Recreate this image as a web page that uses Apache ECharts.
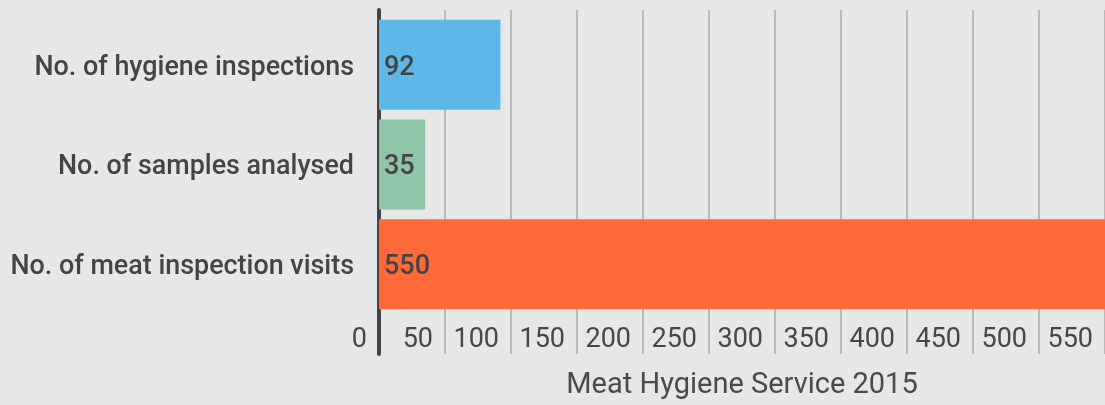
<!DOCTYPE html>
<html>
<head>
<meta charset="utf-8">
<script src="https://cdn.jsdelivr.net/npm/echarts@6/dist/echarts.min.js"></script>
<style>
html,body{margin:0;padding:0;background:#e6e7e9;}
#chart{width:1105px;height:405px;}
</style>
</head>
<body>
<div id="chart"></div>
<script>
var categories = ['No. of hygiene inspections', 'No. of samples analysed', 'No. of meat inspection visits'];
var values = [92, 35, 550];
var barColors = ['#5db7e7', '#8fc4a7', '#ff6a3b'];
var axisTitle = 'Meat Hygiene Service 2015';
var axisMin = 0, axisMax = 550, axisStep = 50;

var chart = echarts.init(document.getElementById('chart'));
var font = 'Roboto, "Noto Sans", sans-serif';
chart.setOption({
  backgroundColor: '#e6e7e9',
  animation: false,
  grid: [
    {left: 379, right: -2, top: 15, height: 299},
    {left: 379, right: -2, top: 10, bottom: 47}
  ],
  xAxis: [
    {gridIndex: 0, type: 'value', min: axisMin, max: axisMax, interval: axisStep, show: false},
    {gridIndex: 1, type: 'value', min: axisMin, max: axisMax, interval: axisStep, position: 'bottom',
     axisLine: {show: false}, axisTick: {show: false},
     splitLine: {show: true, lineStyle: {color: '#b9b9bb', width: 2}},
     axisLabel: {inside: true, margin: 0, align: 'right', padding: [0, 12, 0, 0],
                 fontFamily: font, fontSize: 27, color: '#474747'},
     name: axisTitle, nameLocation: 'middle', nameGap: 17,
     nameTextStyle: {fontFamily: font, fontSize: 29, color: '#4a4a4a'}}
  ],
  yAxis: [
    {gridIndex: 0, type: 'category', data: categories, inverse: true,
     axisLine: {show: false}, axisTick: {show: false}, splitLine: {show: false},
     axisLabel: {margin: 25, formatter: '{a|{value}}',
                 rich: {a: {padding: [6, 0, 0, 0], fontFamily: font, fontSize: 26.9, fontWeight: 500, color: '#444'}}}},
    {gridIndex: 1, type: 'value', min: 0, max: 1, offset: 2,
     axisLine: {show: true, lineStyle: {color: '#444', width: 4}},
     axisTick: {show: false}, axisLabel: {show: false}, splitLine: {show: false}}
  ],
  series: [{
    type: 'bar', xAxisIndex: 0, yAxisIndex: 0, barWidth: 90,
    data: values.map(function (v, i) { return {value: v, itemStyle: {color: barColors[i]}}; }),
    label: {show: true, position: 'insideLeft', distance: 5, offset: [0, 3], fontFamily: font, fontSize: 27,
            fontWeight: 500, color: '#444'},
    z: 3
  }]
});
</script>
</body>
</html>
